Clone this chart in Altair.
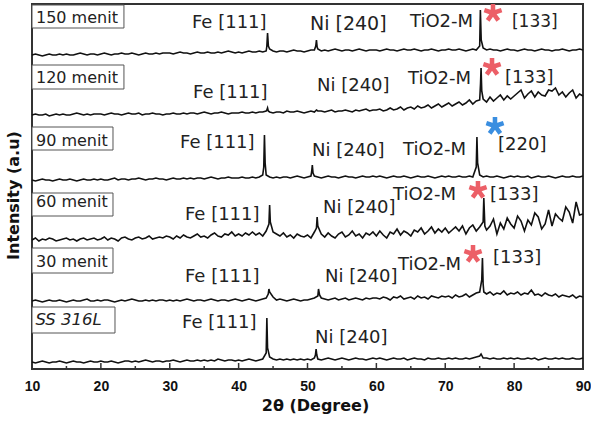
import math
import altair as alt
import pandas as pd

# ---------------- data ----------------
X0, STEP = 10.0, 0.5
series_names = ["150 menit", "120 menit", "90 menit", "60 menit", "30 menit", "SS 316L"]
offsets = [313, 253, 188, 129, 67, 6]

b150 = [1,2,1,0,1,2,1,1,2,1, 2,1,1,2,3,2,1,2,2,1,
        2,3,2,1,2,2,3,2,2,3, 2,1,2,3,2,2,3,2,3,3,
        3,2,3,4,3,3,2,3,4,3, 3,4,3,3,4,3,4,5,4,3,
        4,3,4,5,4,4,5,4,5,7, 5,4,5,5,4,5,6,5,5,4,
        5,6,6,7,5,6,5,6,7,6, 5,6,6,5,6,7,6,5,6,6,
        6,5,6,7,6,6,5,6,7,6, 6,7,6,5,6,6,7,6,5,6,
        6,7,6,6,7,6,5,6,7,6, 10,8,6,7,6,6,5,6,7,6,
        6,5,6,7,6,6,5,6,7,6, 6,5,6,6,7,6,5,6,6,7,6]
b120 = [1,2,1,1,2,0,1,2,1,2, 1,1,2,3,2,1,2,1,2,2,
        2,1,2,3,2,2,1,2,3,2, 2,3,1,2,2,3,2,2,1,2,
        2,3,2,2,3,2,3,3,2,3, 4,3,2,3,3,4,3,2,3,3,
        3,4,3,3,4,3,4,4,5,4, 3,4,4,3,5,4,4,5,4,3,
        4,5,4,5,5,4,5,6,4,5, 5,6,5,4,6,5,6,7,5,6,
        6,7,5,6,8,6,7,9,6,8, 9,7,10,8,9,11,8,10,12,9,
        11,13,10,12,14,11,13,16,12,15, 16,17,14,19,15,18,21,16,20,17,
        20,23,26,18,22,25,19,24,21,20, 26,25,28,21,24,19,23,26,18,22,20]
b90 = [1,0,1,2,1,1,0,1,2,1, 1,2,1,0,1,2,1,1,2,1,
       2,1,1,2,3,1,2,2,1,2, 2,3,2,1,2,2,3,2,2,1,
       2,3,2,2,3,2,3,2,3,3, 2,3,4,3,2,3,3,4,3,3,
       3,4,3,3,4,3,4,6,6,4, 3,4,3,4,4,3,4,5,4,3,
       4,5,5,4,3,4,5,4,4,3, 4,5,4,4,3,4,5,4,4,5,
       4,5,4,3,4,5,4,4,5,4, 3,4,5,4,4,5,4,3,4,5,
       4,5,4,4,5,4,4,5,4,14, 6,4,5,4,4,5,4,3,4,5,
       4,5,4,4,5,3,4,5,4,4, 5,4,3,4,5,4,4,5,4,4,5]
b60 = [0,2,-1,1,0,2,1,-1,0,1, 2,0,1,-1,1,2,0,1,2,0,
       1,3,0,2,1,-1,2,3,1,0, 2,3,1,2,4,1,2,3,2,4,
       3,1,4,2,5,3,2,4,6,3, 4,2,5,7,4,3,6,5,8,4,
       6,4,7,5,8,5,7,4,9,35, 8,6,4,7,3,5,2,6,4,3,
       5,2,8,14,6,3,7,4,2,6, 8,3,5,9,4,6,2,7,5,8,
       4,9,5,2,8,6,11,5,9,7, 4,10,8,12,6,9,13,7,11,8,
       12,7,10,13,9,14,6,12,15,9, 13,18,10,14,21,6,17,11,22,16,
       12,24,19,9,20,15,27,23,11,16, 30,14,26,22,19,33,28,17,38,25,26]
b30 = [1,2,1,0,1,2,1,1,2,1, 0,1,2,1,1,2,3,1,1,2,
       1,2,2,1,0,1,2,1,2,3, 2,1,1,2,1,2,1,2,2,1,
       2,1,2,1,2,3,2,1,2,2, 1,2,3,2,1,2,2,1,2,3,
       2,1,2,3,2,1,2,3,4,10, 5,2,3,2,1,2,3,2,1,2,
       2,3,4,6,4,3,2,3,4,2, 3,4,2,3,4,3,2,4,3,4,
       4,3,5,4,2,5,4,6,3,4, 5,3,6,4,5,3,6,5,4,6,
       5,6,4,7,5,6,8,5,7,9, 10,18,8,10,7,9,8,11,7,9,
       8,10,7,9,8,12,7,8,6,9, 7,6,8,5,7,6,5,7,4,6,5]
bss = [1,0,1,2,1,0,1,1,2,1, 0,1,2,1,1,0,1,2,1,1,
       2,1,1,2,1,0,1,2,2,1, 2,1,2,3,2,1,2,2,1,2,
       2,3,2,1,2,3,2,2,3,2, 3,2,3,2,4,3,2,3,3,2,
       3,2,3,4,3,2,3,4,10,6, 4,3,4,3,4,3,4,3,4,3,
       4,3,5,4,3,4,5,4,3,4, 5,4,3,4,5,4,4,3,4,5,
       4,5,4,3,4,5,4,4,5,3, 4,5,4,4,3,5,4,4,5,4,
       4,5,4,5,4,4,5,4,5,6, 7,5,5,4,5,4,4,5,4,5,
       4,5,4,4,5,4,5,3,4,5, 4,4,5,4,5,4,4,5,4,4,5]

pk150_x = [44.1, 44.2, 44.32, 51.2, 51.3, 51.4, 75.1, 75.22]
pk150_y = [10, 23, 10, 10, 16, 9, 46, 16]
pk120_x = [44.1, 44.2, 44.3, 51.3, 75.12, 75.2, 75.3]
pk120_y = [6, 8, 5, 6, 32, 48, 25]
pk90_x = [43.65, 43.75, 43.85, 50.6, 50.7, 50.8, 74.6, 74.7]
pk90_y = [14, 46, 18, 9, 16, 8, 44, 18]
pk60_x = [44.4, 44.6, 51.3, 51.4, 75.6, 75.75]
pk60_y = [16, 18, 12, 23, 42, 14]
pk30_x = [44.3, 44.4, 51.6, 51.75, 75.3, 75.4, 75.6]
pk30_y = [8, 13, 13, 7, 22, 44, 10]
pkss_x = [44.1, 44.2, 51.15, 51.25, 51.35, 75.2]
pkss_y = [45, 15, 8, 14, 8, 9]

x_ticks = [10, 20, 30, 40, 50, 60, 70, 80, 90]
minor_ticks = [15, 25, 35, 45, 55, 65, 75, 85]

# sample labels (boxes)
box_text = ["150 menit", "120 menit", "90 menit", "60 menit", "30 menit"]
box_text_y = [346, 286, 223, 162, 102]
box_x2 = [23.35, 23.35, 21.76, 21.76, 21.76, 22.05]
box_y1 = [364, 304, 242, 176, 121, 62]
box_y2 = [341, 280, 219, 153, 96, 36]
ss_text, ss_text_y = "SS 316L", 44

# peak annotations
ann_text = ["Fe [111]", "Ni [240]", "TiO2-M", "[133]",
            "Fe [111]", "Ni [240]", "TiO2-M", "[133]",
            "Fe [111]", "Ni [240]", "TiO2-M", "[220]",
            "Fe [111]", "Ni [240]", "TiO2-M", "[133]",
            "Fe [111]", "Ni [240]", "TiO2-M", "[133]",
            "Fe [111]", "Ni [240]"]
ann_x = [33.23, 50.36, 64.88, 79.69,
         33.38, 51.38, 64.59, 78.68,
         31.49, 50.65, 63.87, 77.66,
         32.21, 52.25, 62.41, 76.5,
         32.21, 52.54, 63.14, 76.93,
         31.78, 51.09]
ann_y = [341, 339, 342, 342,
         271, 278, 285, 286,
         221, 213, 214, 219,
         149, 156, 169, 169,
         87, 87, 99, 106,
         41, 26]
ann_fs = [18, 19, 18, 17,
          18, 18, 18, 18,
          18, 18, 18, 18,
          18, 18, 18, 18,
          18, 18, 18, 18,
          18, 18]

star_x = [76.93, 76.79, 77.22, 74.75, 74.03]
star_y = [356, 302, 243, 179, 115]
star_c = ["#EC5F67", "#EC5F67", "#3A8EE0", "#EC5F67", "#EC5F67"]

# ---------------- build tables ----------------
bases = [b150, b120, b90, b60, b30, bss]
pks = [(pk150_x, pk150_y), (pk120_x, pk120_y), (pk90_x, pk90_y),
       (pk60_x, pk60_y), (pk30_x, pk30_y), (pkss_x, pkss_y)]
rows = []
for name, off, base, (px, py) in zip(series_names, offsets, bases, pks):
    assert len(base) == 161, (name, len(base))
    pts = [(X0 + STEP * i, v) for i, v in enumerate(base)] + list(zip(px, py))
    pts.sort()
    for x, v in pts:
        rows.append({"series": name, "x": x, "y": off + v})
lines_df = pd.DataFrame(rows)

boxes_df = pd.DataFrame({"x": [10.0] * 6, "x2": box_x2, "y": box_y1, "y2": box_y2})
boxtext_df = pd.DataFrame({"t": box_text, "x": [10.58] * 5, "y": box_text_y})
sstext_df = pd.DataFrame({"t": [ss_text], "x": [10.5], "y": [ss_text_y]})
ann_df = pd.DataFrame({"t": ann_text, "x": ann_x, "y": ann_y, "fs": ann_fs})
star_df = pd.DataFrame({"x": star_x, "y": star_y, "c": star_c})
major_df = pd.DataFrame({"x": x_ticks})
minor_df = pd.DataFrame({"x": minor_ticks})


def asterisk_path(w=0.25):
    parts = []
    for k in range(5):
        a = math.radians(-90 + 72 * k)
        dx, dy = math.cos(a), math.sin(a)
        px, py = -dy * w, dx * w
        pts = [(px, py), (dx + px, dy + py), (dx - px, dy - py), (-px, -py)]
        parts.append("M" + " L".join(f"{x:.3f},{y:.3f}" for x, y in pts) + " Z")
    return " ".join(parts)


xs = alt.Scale(domain=[10, 90], nice=False, zero=False)
ys = alt.Scale(domain=[0, 365], nice=False, zero=False)
FONT = "DejaVu Sans"

xaxis = alt.Axis(
    values=x_ticks, grid=False, domain=False, ticks=False,
    labelFont="Liberation Sans", labelFontWeight="bold", labelFontSize=14,
    labelColor="#111", labelPadding=10, labelFlush=False,
    titleFont=FONT, titleFontWeight="bold", titleFontSize=16, titleColor="#111",
    titlePadding=4, titleX=283)
yaxis = alt.Axis(
    labels=False, ticks=False, domain=False, grid=False,
    titleFont=FONT, titleFontWeight="bold", titleFontSize=16, titleColor="#111",
    titleX=-11, titleY=191, titleBaseline="bottom")


def X(field="x"):
    return alt.X(f"{field}:Q", scale=xs, axis=xaxis, title="2θ (Degree)")


def Y(field="y"):
    return alt.Y(f"{field}:Q", scale=ys, axis=yaxis, title="Intensity (a.u)")


lines = alt.Chart(lines_df).mark_line(color="#111", strokeWidth=1.6).encode(
    x=X(), y=Y(), detail="series:N")

major = alt.Chart(major_df).mark_rule(color="#333", strokeWidth=1.5).encode(
    x=X(), y=alt.value(365), y2=alt.value(359))
minor = alt.Chart(minor_df).mark_rule(color="#333", strokeWidth=1.5).encode(
    x=X(), y=alt.value(365), y2=alt.value(362))

boxes = alt.Chart(boxes_df).mark_rect(fill="white", stroke="#555", strokeWidth=1).encode(
    x=X(), x2="x2:Q", y=Y(), y2="y2:Q")

boxtext = alt.Chart(boxtext_df).mark_text(
    align="left", baseline="alphabetic", font=FONT, fontSize=16, color="#222").encode(
    x=X(), y=Y(), text="t:N")

sstext = alt.Chart(sstext_df).mark_text(
    align="left", baseline="alphabetic", font=FONT, fontSize=16.5, fontStyle="italic",
    color="#222").encode(x=X(), y=Y(), text="t:N")

ann = alt.Chart(ann_df).mark_text(
    align="left", baseline="alphabetic", font=FONT, color="#222").encode(
    x=X(), y=Y(), text="t:N", size=alt.Size("fs:Q", scale=None, legend=None))

stars = alt.Chart(star_df).mark_point(
    shape=asterisk_path(), filled=True, size=330, opacity=1, strokeWidth=0).encode(
    x=X(), y=Y(), color=alt.Color("c:N", scale=None, legend=None))

chart = alt.layer(lines, major, minor, boxes, boxtext, sstext, ann, stars).properties(
    width=551, height=365,
    padding={"left": 32, "top": 4, "right": 8, "bottom": 52},
    autosize=alt.AutoSizeParams(type="none"),
    background="white",
).configure_view(stroke="#333", strokeWidth=2)

chart.save("out.html", embed_options={"renderer": "svg", "actions": False})
